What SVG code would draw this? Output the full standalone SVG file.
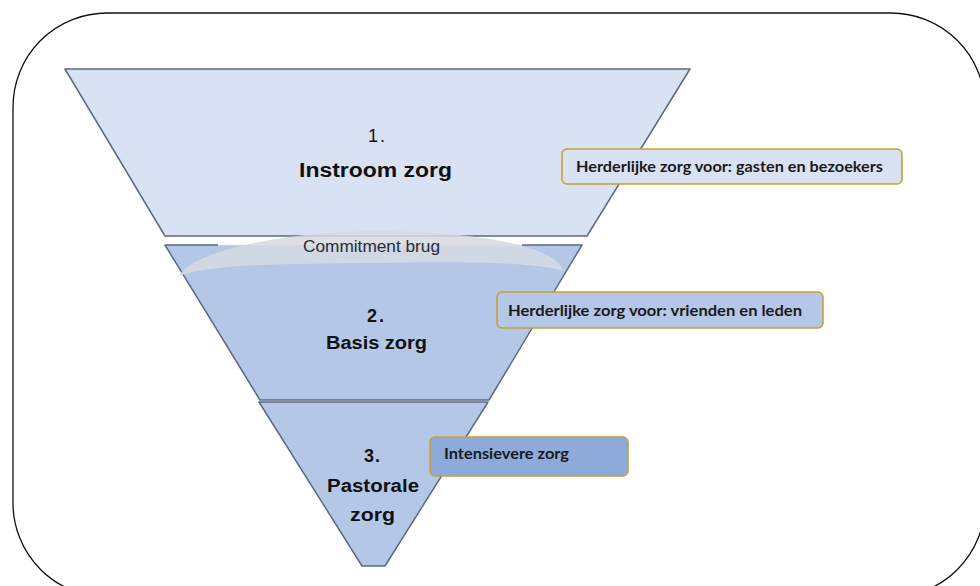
<svg xmlns="http://www.w3.org/2000/svg" width="980" height="586" viewBox="0 0 980 586">
<style>
.seg{stroke:#5b6b82;stroke-width:1.5;stroke-linejoin:round}
.lvl{font-family:"Liberation Sans",Arial,sans-serif;font-weight:bold;fill:#111;text-anchor:start}
.call{stroke:#c9a034;stroke-width:1.6}
.ct{font-family:Lato,"Liberation Sans",sans-serif;font-weight:bold;font-size:15px;fill:#1a1a1a}
</style>
<rect x="13" y="13" width="972" height="584" rx="94" ry="94" fill="#ffffff" stroke="#111" stroke-width="1.3"/>
<g id="level1">
<polygon class="seg" points="65,69 690,69 587,236 165,236" fill="#d9e2f3"/>
<text x="368" y="142" font-family="Liberation Sans,Arial,sans-serif" font-size="18" fill="#111" textLength="17">1.</text>
<text class="lvl" x="299" y="177" font-size="20" textLength="153" lengthAdjust="spacingAndGlyphs">Instroom zorg</text>
</g>
<g id="level2">
<polygon points="165,245 582,245 489,400 260,400" fill="#b4c7e7"/>
<path class="seg" fill="none" d="M218,245 L165,245 L260,400 L489,400 L582,245 L522,245"/>
<line x1="218" y1="245" x2="522" y2="245" stroke="#e8ebf0" stroke-width="1.5" stroke-dasharray="1.5 1.5"/>
<text class="lvl" x="367" y="322" font-size="18" textLength="17">2.</text>
<text class="lvl" x="326" y="349" font-size="18" textLength="101" lengthAdjust="spacingAndGlyphs">Basis zorg</text>
</g>
<g id="bridge">
<path d="M178,277 C195,247 300,231 375,231 C450,231 555,241 563,271 C540,262 450,261 375,263 C300,264 205,263 178,277 Z" fill="#d6dae2" opacity="0.85"/>
<text x="303" y="252" font-family="Liberation Sans,Arial,sans-serif" font-size="16" fill="#2a2a3a" textLength="137" lengthAdjust="spacingAndGlyphs">Commitment brug</text>
</g>
<g id="level3">
<polygon class="seg" points="259,402 488,402 385,566 362,566" fill="#b4c7e7"/>
<text class="lvl" x="364" y="462" font-size="18" textLength="16">3.</text>
<text class="lvl" x="327" y="492" font-size="18" textLength="92" lengthAdjust="spacingAndGlyphs">Pastorale</text>
<text class="lvl" x="350" y="521" font-size="18" textLength="45" lengthAdjust="spacingAndGlyphs">zorg</text>
</g>
<g id="callout1">
<rect class="call" x="562" y="149" width="340" height="35" rx="5" fill="#d9e2f3"/>
<text class="ct" x="576" y="172" textLength="307" lengthAdjust="spacingAndGlyphs">Herderlijke zorg voor: gasten en bezoekers</text>
</g>
<g id="callout2">
<rect class="call" x="497" y="292" width="326" height="36" rx="5" fill="#b4c7e7"/>
<text class="ct" x="508" y="316" textLength="294" lengthAdjust="spacingAndGlyphs">Herderlijke zorg voor: vrienden en leden</text>
</g>
<g id="callout3">
<rect class="call" x="430" y="437" width="198" height="39" rx="5" fill="#8eaadb"/>
<text class="ct" x="444" y="459" textLength="125" lengthAdjust="spacingAndGlyphs">Intensievere zorg</text>
</g>
<g id="connectors"></g>
</svg>
